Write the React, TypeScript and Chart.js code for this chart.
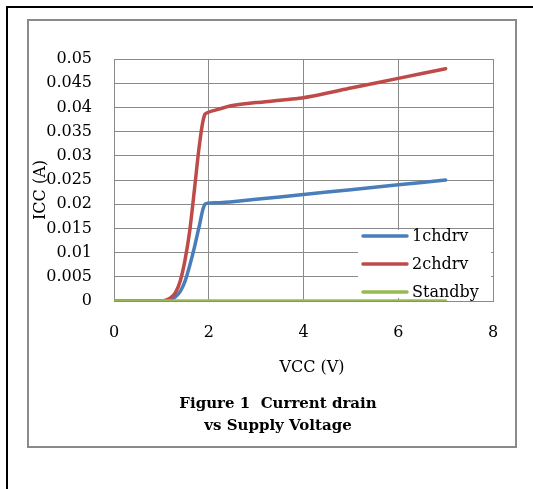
import React, { useEffect, useRef } from "react";
import { Chart, registerables } from "chart.js";

Chart.register(...registerables);

// ---- data ----
const vcc = [0, 1, 1.1, 1.2, 1.3, 1.4, 1.5, 1.6, 1.7, 1.8, 1.92, 2.2, 2.5, 3, 4, 5, 6, 7];
const ch1drv = [0, 0, 0.0001, 0.0003, 0.0009, 0.002, 0.0041, 0.0074, 0.0112, 0.0155, 0.02, 0.0203, 0.0205, 0.021, 0.022, 0.023, 0.024, 0.025];
const ch2drv = [0, 0, 0.0002, 0.0007, 0.0018, 0.0042, 0.0085, 0.0146, 0.0232, 0.032, 0.0386, 0.0396, 0.0404, 0.041, 0.042, 0.044, 0.046, 0.048];
const standby = [0, 0, 0, 0, 0, 0, 0, 0, 0, 0, 0, 0, 0, 0, 0, 0, 0, 0];
const seriesNames = ["1chdrv", "2chdrv", "Standby"];
const xTicks = [0, 2, 4, 6, 8];
const yTicks = [0, 0.005, 0.01, 0.015, 0.02, 0.025, 0.03, 0.035, 0.04, 0.045, 0.05];
const yTickLabels = ["0", "0.005", "0.01", "0.015", "0.02", "0.025", "0.03", "0.035", "0.04", "0.045", "0.05"];
const xTitle = "VCC (V)";
const yTitle = "ICC (A)";
const captionLines = ["Figure 1  Current drain", "vs Supply Voltage"];

const COLORS = ["#4A7EBB", "#BE4B48", "#98B954"];
const GRID = "#8a8a8a";
const FONT = "'DejaVu Serif', serif";

const pts = (ys: number[]) => vcc.map((x, i) => ({ x, y: ys[i] }));

const decorPlugin = {
  id: "decor",
  afterDatasetsDraw(chart: any) {
    const { ctx, chartArea } = chart;
    ctx.save();
    // legend box inside plot area (lower right)
    const bx = chartArea.right - 135;
    const by = chartArea.bottom - 71;
    ctx.fillStyle = "#ffffff";
    ctx.fillRect(bx, by, 133, 68);
    ctx.font = `16px ${FONT}`;
    ctx.textBaseline = "middle";
    ctx.textAlign = "left";
    const rows = [by + 6, by + 34, by + 62];
    seriesNames.forEach((name, i) => {
      ctx.strokeStyle = COLORS[i];
      ctx.lineWidth = 3.5;
      ctx.lineCap = "round";
      ctx.beginPath();
      ctx.moveTo(bx + 5, rows[i]);
      ctx.lineTo(bx + 49, rows[i]);
      ctx.stroke();
      ctx.fillStyle = "#000";
      ctx.fillText(name, bx + 54, rows[i] + 1);
    });
    // axis titles
    ctx.fillStyle = "#000";
    ctx.textAlign = "center";
    ctx.fillText(xTitle, chartArea.left + 198, chartArea.bottom + 67);
    ctx.translate(chartArea.left - 73, (chartArea.top + chartArea.bottom) / 2 + 10);
    ctx.rotate(-Math.PI / 2);
    ctx.fillText(yTitle, 0, 0);
    ctx.restore();
  },
};

function ChartView() {
  const ref = useRef<HTMLCanvasElement | null>(null);
  useEffect(() => {
    if (!ref.current) return;
    const tickFont = { family: FONT, size: 16 };
    const chart = new Chart(ref.current, {
      type: "scatter",
      data: {
        datasets: [
          { label: seriesNames[0], data: pts(ch1drv), borderColor: COLORS[0], order: 2 },
          { label: seriesNames[1], data: pts(ch2drv), borderColor: COLORS[1], order: 1 },
          { label: seriesNames[2], data: pts(standby), borderColor: COLORS[2], order: 0 },
        ].map((d) => ({
          ...d,
          showLine: true,
          pointRadius: 0,
          pointHoverRadius: 0,
          borderWidth: 3.5,
          borderCapStyle: "round",
          borderJoinStyle: "round",
          tension: 0.2,
          backgroundColor: d.borderColor,
        })) as any,
      },
      options: {
        animation: false,
        responsive: false,
        devicePixelRatio: 1,
        layout: { padding: { left: 0, top: 59, right: 40, bottom: 108 } },
        plugins: { legend: { display: false }, tooltip: { enabled: false } },
        scales: {
          x: {
            type: "linear",
            min: 0,
            max: 8,
            afterBuildTicks: (s: any) => {
              s.ticks = xTicks.map((v) => ({ value: v }));
            },
            afterFit: (s: any) => {
              s.height = 80;
            },
            grid: { color: GRID, lineWidth: 1, drawTicks: false },
            border: { display: true, color: GRID },
            ticks: { padding: 22, font: tickFont, color: "#000", maxRotation: 0 },
          },
          y: {
            type: "linear",
            min: 0,
            max: 0.05,
            afterBuildTicks: (s: any) => {
              s.ticks = yTicks.map((v) => ({ value: v }));
            },
            afterFit: (s: any) => {
              s.width = 114;
            },
            grid: { color: GRID, lineWidth: 1, drawTicks: false },
            border: { display: true, color: GRID },
            ticks: {
              padding: 22,
              font: tickFont,
              color: "#000",
              callback: (_v: any, i: number) => yTickLabels[i],
            },
          },
        },
      },
      plugins: [decorPlugin],
    } as any);
    return () => chart.destroy();
  }, []);
  return (
    <canvas
      ref={ref}
      width={533}
      height={489}
      style={{ position: "absolute", left: 0, top: 0, width: 533, height: 489 }}
    />
  );
}

export default function App() {
  return (
    <div style={{ position: "absolute", left: 0, top: 0, width: 533, height: 489, overflow: "hidden", background: "#fff" }}>
      <div
        style={{
          position: "absolute",
          left: 6,
          top: 6,
          width: 527,
          height: 483,
          borderLeft: "2px solid #000",
          borderTop: "2px solid #000",
          boxSizing: "border-box",
        }}
      />
      <div
        style={{
          position: "absolute",
          left: 27,
          top: 19,
          width: 490,
          height: 429,
          border: "2px solid #8a8a8a",
          boxSizing: "border-box",
        }}
      />
      <ChartView />
      <div
        style={{
          position: "absolute",
          left: 128,
          width: 300,
          top: 392,
          textAlign: "center",
          fontFamily: FONT,
          fontWeight: "bold",
          fontSize: 15,
          lineHeight: "22px",
          color: "#000",
          whiteSpace: "pre",
        }}
      >
        {captionLines.map((l, i) => (
          <div key={i}>{l}</div>
        ))}
      </div>
    </div>
  );
}
